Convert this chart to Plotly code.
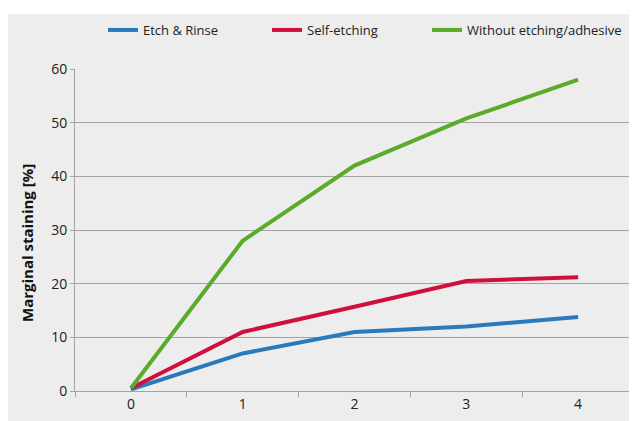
import plotly.graph_objects as go

categories = ["0", "1", "2", "3", "4"]
etch_rinse = [0.3, 7.0, 11.0, 12.0, 13.8]
self_etching = [0.5, 11.0, 15.7, 20.5, 21.2]
without_etching = [0.5, 28.0, 42.0, 50.8, 58.0]
y_ticks = [0, 10, 20, 30, 40, 50, 60]
y_title = "Marginal staining [%]"

series = [
    ("Etch & Rinse", etch_rinse, "#2a7abb", "legend", 108),
    ("Self-etching", self_etching, "#d10f3b", "legend2", 272),
    ("Without etching/adhesive", without_etching, "#5bab2b", "legend3", 432),
]

# page is rendered with an 8px body margin: work in page coordinates and shift
OFF = 8
W, H = 637 - OFF, 421 - OFF
L, R, T, B = 75 - OFF, W - (634 - OFF), 69 - OFF, H - (391 - OFF)
pw, ph = W - L - R, H - T - B

def px(x):
    return (x - OFF - L) / pw

def py(y):
    return (H - B - (y - OFF)) / ph

fig = go.Figure()
legends = {}
for name, vals, col, lg, lx in series:
    fig.add_trace(go.Scatter(x=categories, y=vals, name=name, mode="lines",
                             line=dict(color=col, width=4), legend=lg))
    legends[lg] = dict(orientation="h", x=px(lx - 5), xanchor="left", y=py(30), yanchor="middle",
                       bgcolor="rgba(0,0,0,0)", itemwidth=30,
                       font=dict(family="Liberation Sans Narrow, Open Sans, sans-serif", size=13, color="#222"))

grid = "#a3a3a3"
fig.update_layout(
    width=W, height=H,
    margin=dict(l=L, r=R, t=T, b=B, pad=0),
    paper_bgcolor="white",
    plot_bgcolor="#ecedec",
    font=dict(family="Open Sans, Noto Sans, sans-serif", size=14, color="#222"),
    showlegend=True,
    shapes=[dict(type="rect", xref="paper", yref="paper", x0=px(8), x1=px(634), y0=py(430), y1=py(14),
                 fillcolor="#ecedec", line=dict(width=0), layer="below")],
    annotations=[dict(text="<b>" + y_title + "</b>", xref="paper", yref="paper", x=px(27), y=py(243),
                      xanchor="center", yanchor="middle", textangle=-90, showarrow=False,
                      font=dict(family="Open Sans, sans-serif", size=15, color="#111"))],
    xaxis=dict(type="category", range=[-0.5, 4.5], showgrid=False, showline=True, linecolor=grid, linewidth=1,
               ticks="outside", ticklen=5, tickcolor=grid, tickson="boundaries", zeroline=False,
               tickfont=dict(size=14, color="#222")),
    yaxis=dict(range=[0, 60], tickvals=y_ticks, showgrid=True, gridcolor=grid, gridwidth=1,
               showline=True, linecolor=grid, linewidth=1, ticks="outside", ticklen=4, tickcolor=grid,
               zeroline=False, tickfont=dict(size=14, color="#222")),
    **legends,
)

fig.write_html("out.html")
